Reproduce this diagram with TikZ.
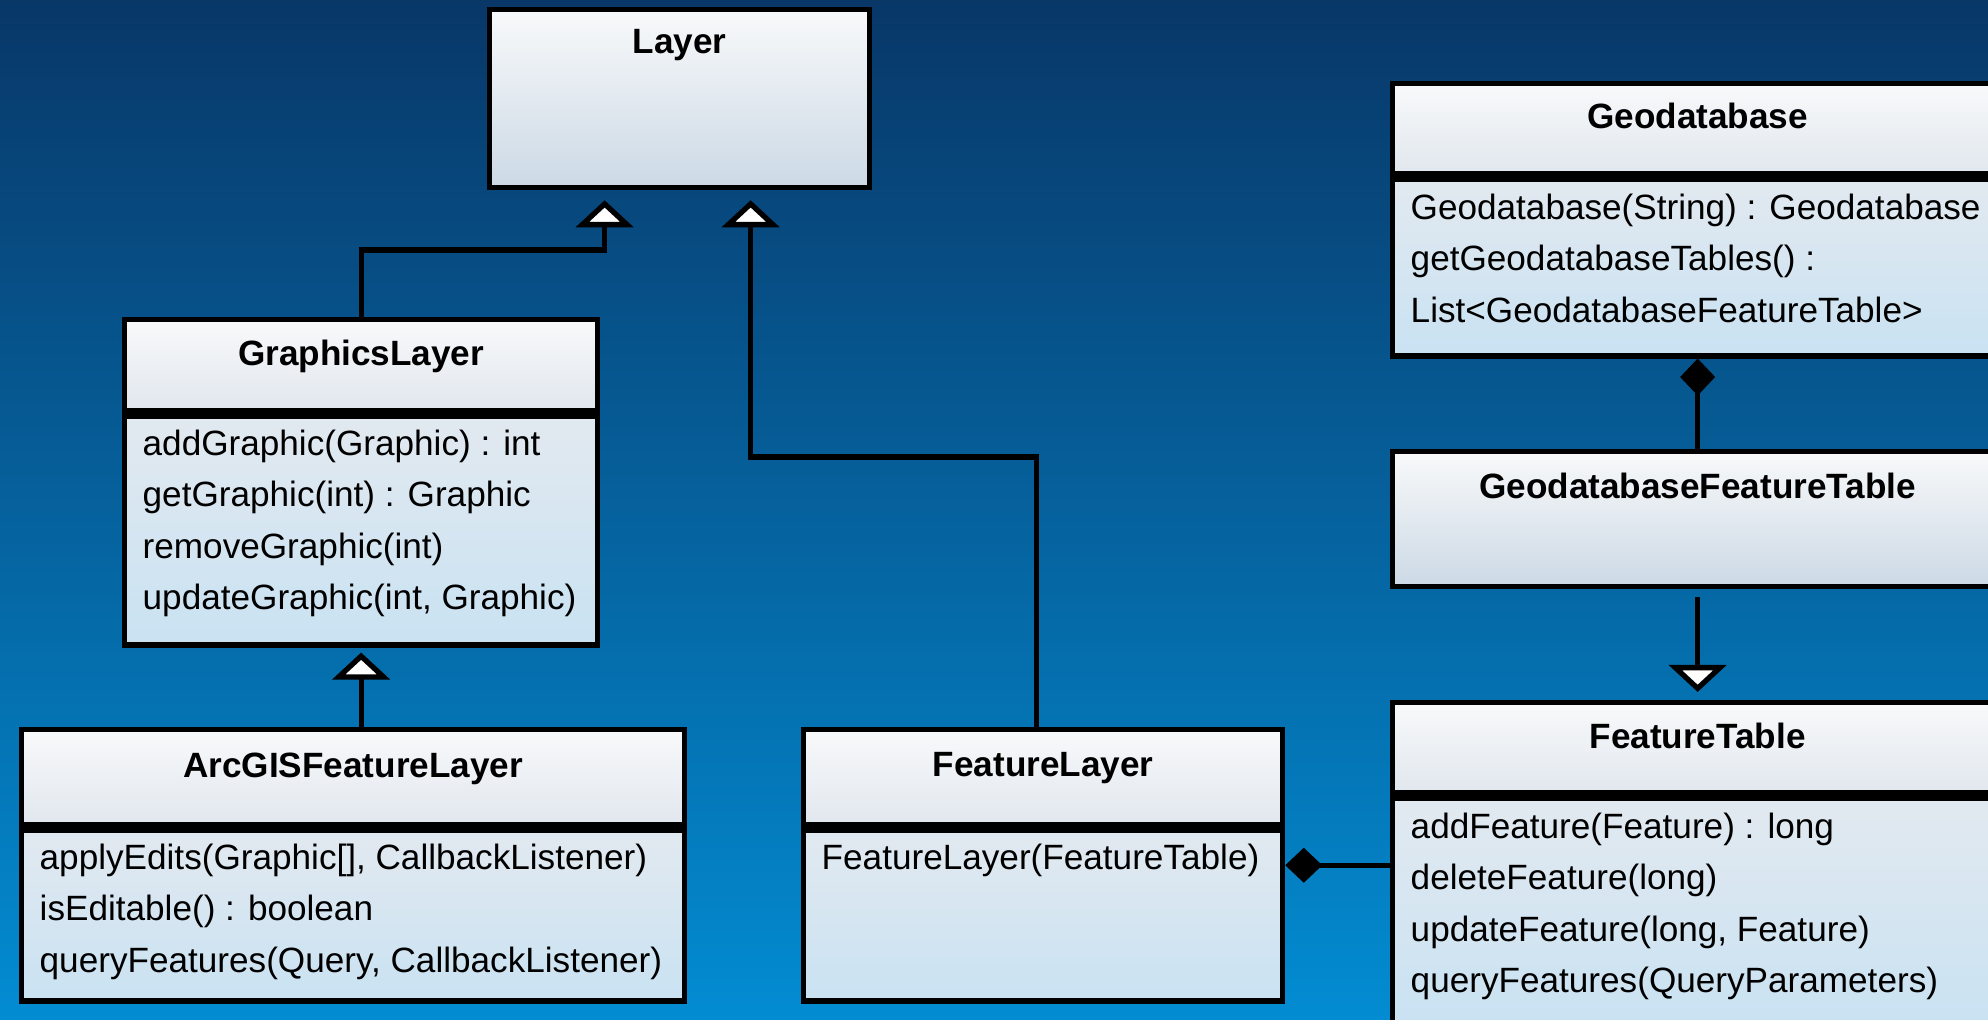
\documentclass[tikz,border=0pt]{standalone}
\usepackage{fontspec}
\setmainfont{Liberation Sans}
\usetikzlibrary{positioning,arrows.meta}

\definecolor{bgtop}{RGB}{8,55,104}
\definecolor{bgbot}{RGB}{3,140,210}
\definecolor{headtop}{RGB}{248,249,250}
\definecolor{headbot}{RGB}{225,231,238}
\definecolor{bodytop}{RGB}{226,233,240}
\definecolor{bodybot}{RGB}{201,226,242}
\definecolor{boxbot}{RGB}{204,217,229}

\tikzset{
  classhead/.style={draw=black,line width=1.5pt,top color=headtop,bottom color=headbot,
    anchor=north west,inner sep=0pt,minimum height=#1},
  classbody/.style={draw=black,line width=1.5pt,top color=bodytop,bottom color=bodybot,
    anchor=north west,inner sep=0pt,minimum height=#1},
  classbox/.style={draw=black,line width=1.5pt,top color=headtop,bottom color=boxbot,
    anchor=north west,inner sep=0pt,minimum height=#1},
  classname/.style={inner sep=0pt,font=\bfseries},
  members/.style={anchor=north west,inner sep=0pt,align=left,
    font=\fontsize{10}{14.6}\selectfont},
  inherit/.style={line width=1.5pt,-{Triangle[fill=white,length=0.27cm,width=0.57cm]}},
  compo/.style={line width=1.5pt,{Diamond[length=0.37cm,width=0.35cm]}-}
}

\begin{document}
\begin{tikzpicture}
\useasboundingbox (0,0) rectangle (19.88,-10.20);
\clip (0,0) rectangle (19.88,-10.20);
\shade[top color=bgtop,bottom color=bgbot] (0,0) rectangle (19.88,-10.20);

% Layer
\node[classbox=1.78cm,minimum width=3.80cm] (layer) at (4.87,-0.07) {};
\node[classname,below=0.22cm of layer.north] (layert) {Layer};

% GraphicsLayer
\node[classhead=0.91cm,minimum width=4.73cm] (gl) at (1.22,-3.17) {};
\node[classbody=2.29cm,minimum width=4.73cm] (glb) at (gl.south west) {};
\node[classname,below=0.22cm of gl.north] (glt) {GraphicsLayer};
\node[members] (glm) at ([xshift=0.2cm,yshift=-0.16cm]glb.north west)
  {addGraphic(Graphic) : int\\getGraphic(int) : Graphic\\removeGraphic(int)\\updateGraphic(int, Graphic)};

% ArcGISFeatureLayer
\node[classhead=0.95cm,minimum width=6.63cm] (afl) at (0.19,-7.27) {};
\node[classbody=1.71cm,minimum width=6.63cm] (aflb) at (afl.south west) {};
\node[classname,below=0.25cm of afl.north] (aflt) {ArcGISFeatureLayer};
\node[members] (aflm) at ([xshift=0.2cm,yshift=-0.16cm]aflb.north west)
  {applyEdits(Graphic[], CallbackListener)\\isEditable() : boolean\\queryFeatures(Query, CallbackListener)};

% FeatureLayer
\node[classhead=0.95cm,minimum width=4.79cm] (fl) at (8.01,-7.27) {};
\node[classbody=1.71cm,minimum width=4.79cm] (flb) at (fl.south west) {};
\node[classname,below=0.25cm of fl.north] (flt) {FeatureLayer};
\node[members] (flm) at ([xshift=0.2cm,yshift=-0.16cm]flb.north west) {FeatureLayer(FeatureTable)};

% Geodatabase
\node[classhead=0.90cm,minimum width=6.10cm] (gdb) at (13.90,-0.81) {};
\node[classbody=1.77cm,minimum width=6.10cm] (gdbb) at (gdb.south west) {};
\node[classname,below=0.21cm of gdb.north] (gdbt) {Geodatabase};
\node[members] (gdbm) at ([xshift=0.2cm,yshift=-0.17cm]gdbb.north west)
  {Geodatabase(String) : Geodatabase\\getGeodatabaseTables() :\\List<GeodatabaseFeatureTable>};

% GeodatabaseFeatureTable
\node[classbox=1.35cm,minimum width=6.10cm] (gft) at (13.90,-4.49) {};
\node[classname,below=0.23cm of gft.north] (gftt) {GeodatabaseFeatureTable};

% FeatureTable
\node[classhead=0.90cm,minimum width=6.10cm] (ft) at (13.90,-7.00) {};
\node[classbody=2.27cm,minimum width=6.10cm] (ftb) at (ft.south west) {};
\node[classname,below=0.22cm of ft.north] (ftt) {FeatureTable};
\node[members] (ftm) at ([xshift=0.2cm,yshift=-0.17cm]ftb.north west)
  {addFeature(Feature) : long\\deleteFeature(long)\\updateFeature(long, Feature)\\queryFeatures(QueryParameters)};

% connectors
\coordinate (lA) at ([xshift=-0.75cm]layer.south);
\coordinate (lB) at ([xshift=0.71cm]layer.south);
\draw[inherit,shorten >=0.1cm] (gl.north) -- ++(0,0.67) -| (lA);
\draw[inherit,shorten >=0.1cm] ([xshift=-0.07cm]fl.north) -- ++(0,2.70) -| (lB);
\draw[inherit,shorten >=0.05cm] (glb.south |- afl.north) -- (glb.south);
\draw[inherit,shorten <=0.08cm,shorten >=0.08cm] (gft.south) -- (ft.north);
\draw[compo] (gdbb.south) -- (gft.north);
\coordinate (flc) at ([yshift=-0.38cm]flb.north east);
\draw[compo] (flc) -- (flc -| ftb.west);
\end{tikzpicture}
\end{document}
